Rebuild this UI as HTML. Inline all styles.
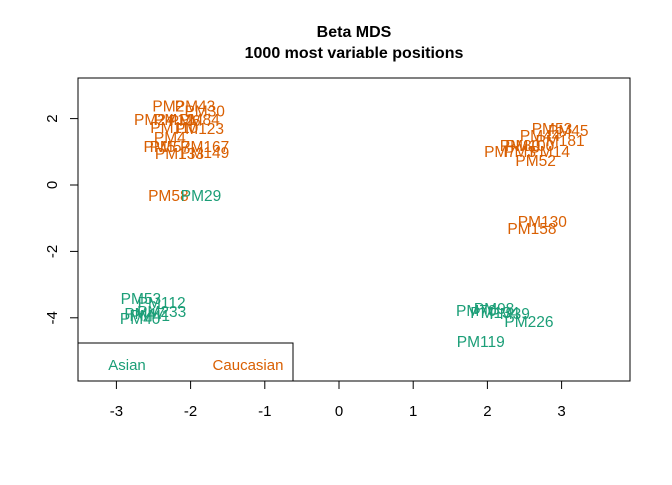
<!DOCTYPE html>
<html><head><meta charset="utf-8"><style>
body{margin:0;background:#fff;font-family:"Liberation Sans",Arial,sans-serif}
</style></head><body>
<svg id="chart" width="672" height="480" viewBox="0 0 672 480">
<rect width="672" height="480" fill="#fff"/>
<text x="354" y="37" text-anchor="middle" font-weight="bold" font-size="16">Beta MDS</text>
<text x="354" y="58" text-anchor="middle" font-weight="bold" font-size="16">1000 most variable positions</text>
<rect x="78" y="78" width="552" height="303" fill="none" stroke="#000"/>
<g id="xaxis"></g>
<g id="yaxis"></g>
<g id="points"></g>
<g>
<rect x="78" y="343" width="215" height="38" fill="#fff" stroke="#000"/>
<text x="127" y="370" text-anchor="middle" font-size="15" fill="#1B9E77">Asian</text>
<text x="248" y="370" text-anchor="middle" font-size="15" fill="#D95F02">Caucasian</text>
</g>
</svg>
<script>
const xTicks=[-3,-2,-1,0,1,2,3];
const yTicks=[-4,-2,0,2];
const names=["PM2","PM43","PM30","PM24","PM12","PM84","PM6","PM123","PM110","PM4","PM167","PM57","PM149","PM133","PM5","PM58","PM29",
"PM53","PM45","PM44","PM181","PM80","PM14","PM7","PM3","PM52","PM100","PM130","PM158",
"PM53","PM112","PM233","PM40","PM41","PM47","PM98","PM39","PM70","PM134","PM226","PM119"];
const xs=[-2.3,-1.94,-1.81,-2.49,-2.22,-1.88,-2.08,-1.88,-2.22,-2.28,-1.81,-2.28,-1.81,-2.15,-2.42,-2.3,-1.86,
2.87,3.09,2.71,2.98,2.44,2.84,2.17,2.44,2.65,2.57,2.74,2.6,
-2.67,-2.39,-2.39,-2.68,-2.55,-2.62,2.09,2.3,1.85,2.1,2.56,1.91];
const ys=[2.36,2.36,2.21,1.96,1.96,1.96,1.93,1.69,1.72,1.42,1.14,1.14,0.96,0.93,1.14,-0.33,-0.33,
1.69,1.63,1.48,1.33,1.17,0.99,0.99,0.99,0.72,1.17,-1.11,-1.33,
-3.43,-3.55,-3.83,-4.04,-3.95,-3.89,-3.73,-3.89,-3.8,-3.86,-4.13,-4.73];
const groups=["C","C","C","C","C","C","C","C","C","C","C","C","C","C","C","C","A",
"C","C","C","C","C","C","C","C","C","C","C","C",
"A","A","A","A","A","A","A","A","A","A","A","A"];
const X=v=>339+v*74.2, Y=v=>185-v*33.2;
const NS="http://www.w3.org/2000/svg";
function mk(tag,attrs,parent,text){const e=document.createElementNS(NS,tag);for(const k in attrs)e.setAttribute(k,attrs[k]);if(text!==undefined)e.textContent=text;parent.appendChild(e);return e;}
const xa=document.getElementById('xaxis'),ya=document.getElementById('yaxis'),pts=document.getElementById('points');
mk('line',{x1:X(-3),x2:X(3),y1:381,y2:381,stroke:'#000'},xa);
xTicks.forEach(t=>{mk('line',{x1:X(t),x2:X(t),y1:381,y2:389,stroke:'#000'},xa);
const tx=mk('text',{x:X(t),y:416,'text-anchor':'middle','font-size':'15'},xa,String(t));

});
mk('line',{x1:78,x2:78,y1:Y(-4),y2:Y(2),stroke:'#000'},ya);
yTicks.forEach(t=>{mk('line',{x1:70,x2:78,y1:Y(t),y2:Y(t),stroke:'#000'},ya);
const tx=mk('text',{x:0,y:0,'text-anchor':'middle','font-size':'15',transform:`translate(57,${Y(t)}) rotate(-90)`},ya,String(t));

});
names.forEach((n,i)=>{const t=mk('text',{x:X(xs[i]),y:Y(ys[i])+5,'text-anchor':'middle','font-size':'15.5',fill:groups[i]==="A"?'#1B9E77':'#D95F02'},pts,n);

});
</script>
</body></html>
